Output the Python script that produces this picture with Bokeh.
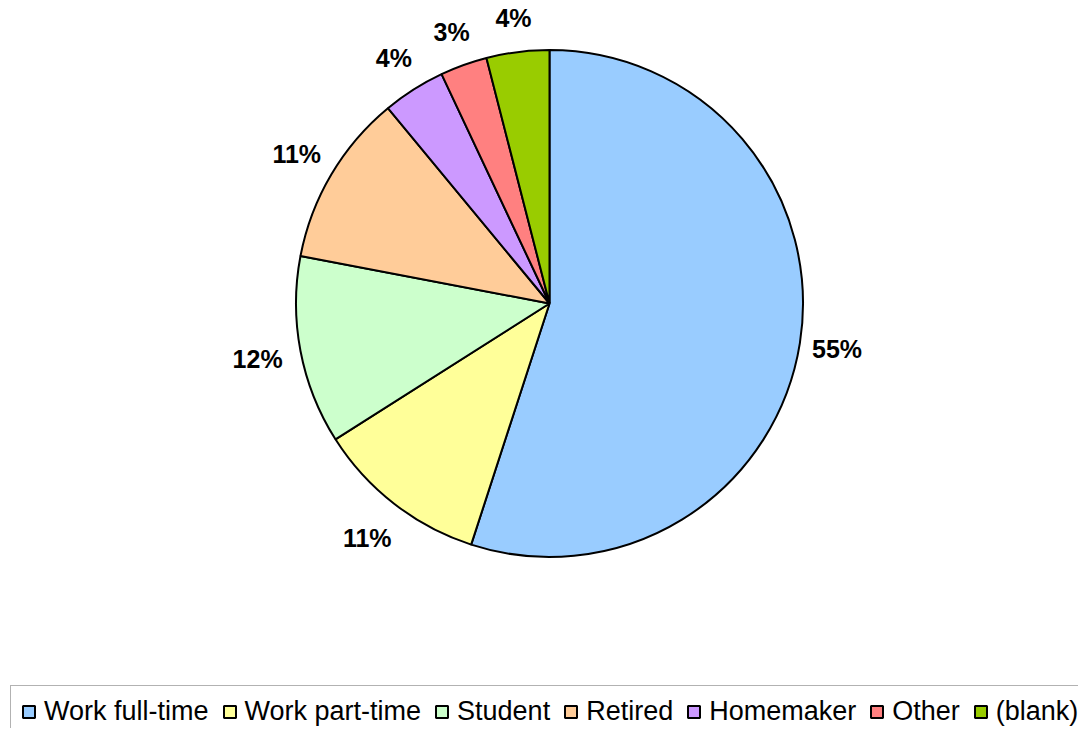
import numpy as np
from bokeh.plotting import figure
from bokeh.models import ColumnDataSource, Legend, LegendItem, Range1d
from bokeh.core.properties import value
from bokeh.embed import file_html
from bokeh.resources import INLINE

categories = ["Work full-time", "Work part-time", "Student", "Retired", "Homemaker", "Other", "(blank)"]
values = [55, 11, 12, 11, 4, 3, 4]
labels = ["55%", "11%", "12%", "11%", "4%", "3%", "4%"]
colors = ["#99CCFF", "#FFFF99", "#CCFFCC", "#FFCC99", "#CC99FF", "#FF8080", "#99CC00"]

W, H = 1078, 728
p = figure(width=W, height=H, x_range=Range1d(0, W), y_range=Range1d(0, H),
           output_backend="svg", toolbar_location=None, min_border=0)
p.axis.visible = False
p.grid.visible = False
p.outline_line_color = None
p.background_fill_color = "white"
p.border_fill_color = "white"

cx, cy, r = 549, H - 303, 253.5
frac = np.array(values, dtype=float) / sum(values)
cum = np.cumsum(frac)
start = np.pi / 2 - 2 * np.pi * cum
end = np.pi / 2 - 2 * np.pi * (cum - frac)
mid = (start + end) / 2
# label distance from the centre (placement style, outside the pie)
lr = r + 37 - 4 * np.sin(mid) + 6 * np.maximum(0, -np.cos(mid))

src = ColumnDataSource(dict(
    cat=categories, val=values, color=colors, start=start, end=end,
    x=[cx] * len(values), y=[cy] * len(values),
    lx=cx + lr * np.cos(mid), ly=cy + lr * np.sin(mid), label=labels,
))

w = p.wedge(x="x", y="y", radius=r, start_angle="start", end_angle="end",
            fill_color="color", line_color="black", line_width=2, source=src)

p.text(x="lx", y="ly", text="label", source=src, text_align="center",
       text_baseline="middle", text_font=value("Liberation Sans"),
       text_font_style="bold", text_font_size="25px", text_color="black")

items = [LegendItem(label=c, renderers=[w], index=i) for i, c in enumerate(categories)]
legend = Legend(items=items, orientation="horizontal", location=(10, -10),
                label_text_font="Liberation Sans", label_text_font_size="27px",
                label_text_color="black",
                glyph_width=15, glyph_height=15, label_standoff=8, spacing=13,
                padding=10, border_line_color="#666666", border_line_width=1,
                background_fill_alpha=1, margin=0)
p.add_layout(legend, "center")

open("out.html", "w").write(file_html(p, INLINE))
